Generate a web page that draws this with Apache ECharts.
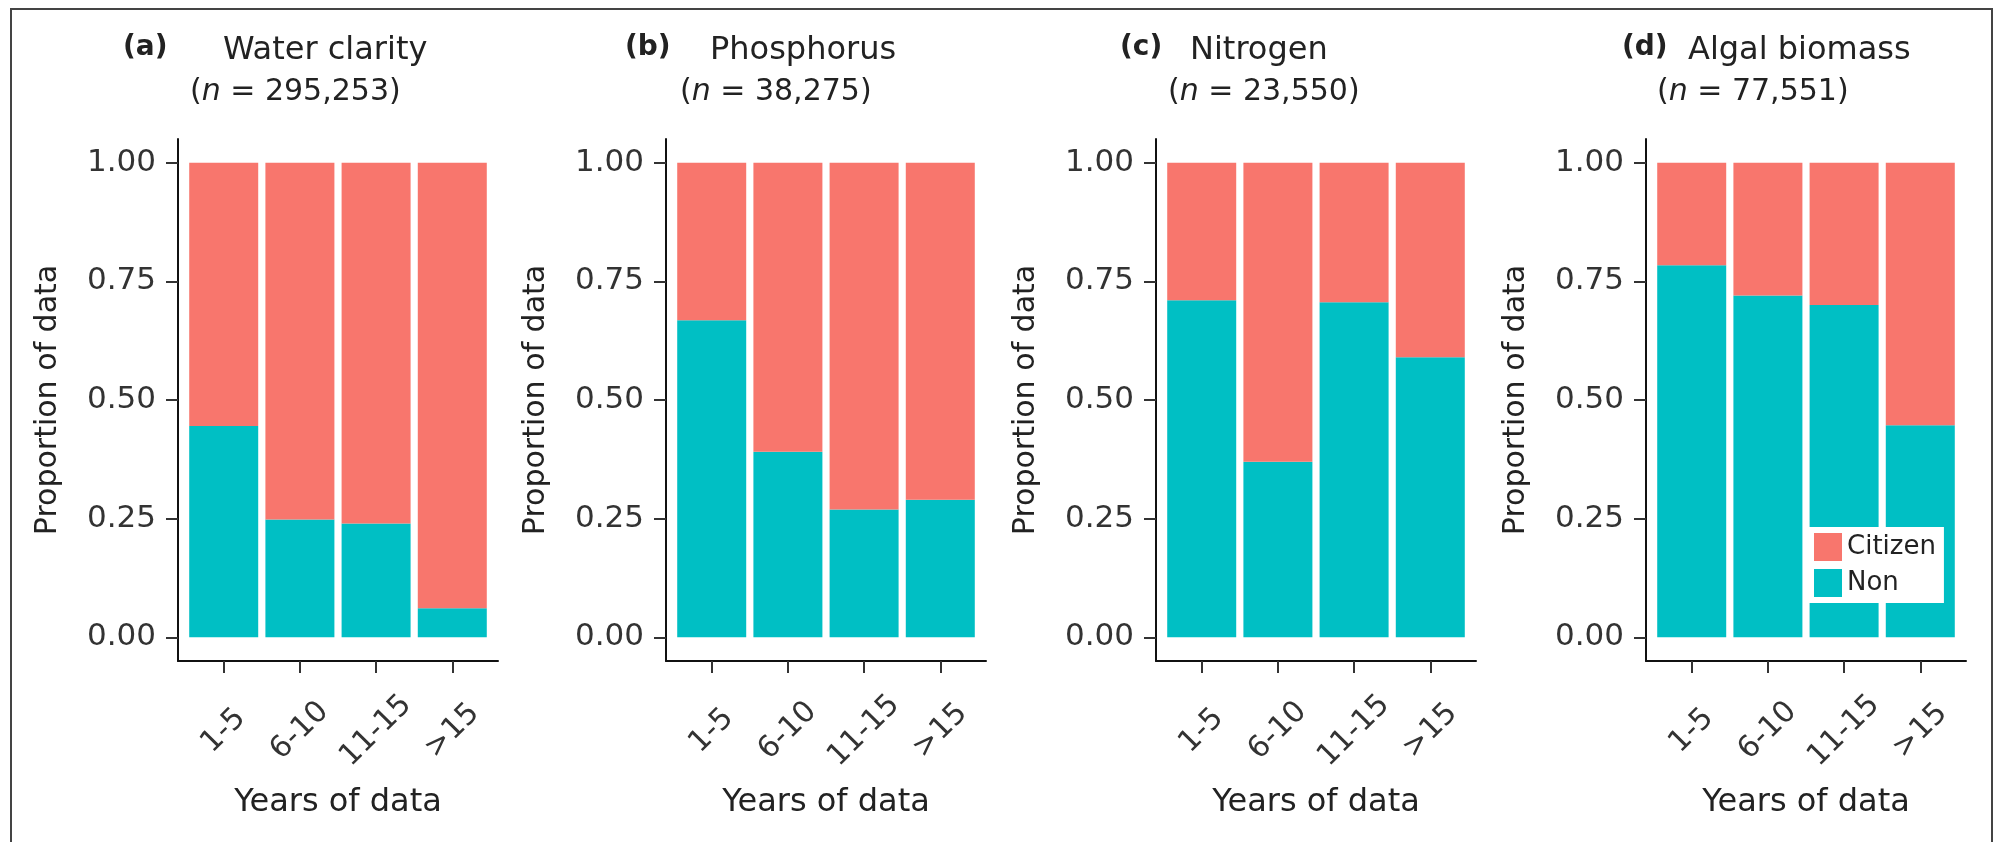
<!DOCTYPE html>
<html>
<head>
<meta charset="utf-8">
<script src="https://cdn.jsdelivr.net/npm/echarts@6/dist/echarts.min.js"></script>
<style>
  html, body { margin: 0; padding: 0; background: #fff; }
  #main { width: 2005px; height: 842px; }
</style>
</head>
<body>
<div id="main"></div>
<script>
// years-of-data bins on the x axis
var categories = ['1-5', '6-10', '11-15', '>15'];

var panelTags = ['(a)', '(b)', '(c)', '(d)'];
var panelNames = ['Water clarity', 'Phosphorus', 'Nitrogen', 'Algal biomass'];
var panelCounts = ['295,253', '38,275', '23,550', '77,551'];

// proportion of data, non-citizen vs citizen, per bin
var nonWater = [0.445, 0.248, 0.240, 0.061];
var citWater = [0.555, 0.752, 0.760, 0.939];
var nonPhos = [0.668, 0.391, 0.269, 0.290];
var citPhos = [0.332, 0.609, 0.731, 0.710];
var nonNitro = [0.710, 0.370, 0.706, 0.590];
var citNitro = [0.290, 0.630, 0.294, 0.410];
var nonAlgae = [0.784, 0.720, 0.700, 0.447];
var citAlgae = [0.216, 0.280, 0.300, 0.553];

var yTicks = [0, 0.25, 0.5, 0.75, 1];
var xTicks = [1, 2, 3, 4];

var FONT = 'DejaVu Sans';
var RED = '#F8766D';
var TEAL = '#00BFC4';

var panels = [
  { non: nonWater, cit: citWater },
  { non: nonPhos, cit: citPhos },
  { non: nonNitro, cit: citNitro },
  { non: nonAlgae, cit: citAlgae }
];

// layout
var axisLeft = [178, 666, 1156, 1646];
var tagLeft = [123, 625, 1120, 1622];
var nameLeft = [223, 710, 1190, 1688];
var countLeft = [190, 680, 1168, 1657];

var chart = echarts.init(document.getElementById('main'));

var grids = [], xAxes = [], yAxes = [], series = [], titles = [];

// value first, bin second, so the stack runs on the y values
function toPairs(vals) {
  return vals.map(function(v, k) { return [v, xTicks[k]]; });
}

panels.forEach(function(p, i) {
  grids.push({ left: axisLeft[i], top: 139, width: 320, height: 522 });

  xAxes.push({
    gridIndex: i,
    type: 'value',
    min: 0.4,
    max: 4.6,
    name: 'Years of data',
    nameLocation: 'middle',
    nameGap: 126,
    nameTextStyle: { fontFamily: FONT, fontSize: 32, color: '#222' },
    axisLine: { onZero: false, lineStyle: { color: '#111', width: 2 } },
    axisTick: { customValues: xTicks, length: 12, lineStyle: { color: '#333', width: 2 } },
    axisLabel: {
      customValues: xTicks,
      formatter: function(v) { return categories[Math.round(v) - 1]; },
      rotate: 45,
      align: 'center',
      verticalAlign: 'middle',
      margin: 70,
      fontFamily: FONT,
      fontSize: 30,
      color: '#333'
    },
    splitLine: { show: false }
  });

  yAxes.push({
    gridIndex: i,
    type: 'value',
    min: -0.05,
    max: 1.05,
    name: 'Proportion of data',
    nameLocation: 'middle',
    nameGap: 115,
    nameTextStyle: { fontFamily: FONT, fontSize: 30, color: '#222' },
    axisLine: { show: true, onZero: false, lineStyle: { color: '#111', width: 2 } },
    axisTick: { show: true, customValues: yTicks, length: 12, lineStyle: { color: '#333', width: 2 } },
    axisLabel: {
      customValues: yTicks,
      formatter: function(v) { return v.toFixed(2); },
      margin: 22,
      fontFamily: FONT,
      fontSize: 31,
      color: '#333'
    },
    splitLine: { show: false }
  });

  series.push({
    name: 'Non',
    type: 'bar',
    xAxisIndex: i,
    yAxisIndex: i,
    stack: 'p' + i,
    barWidth: 69,
    encode: { x: 1, y: 0 },
    itemStyle: { color: TEAL },
    data: toPairs(p.non)
  });
  series.push({
    name: 'Citizen',
    type: 'bar',
    xAxisIndex: i,
    yAxisIndex: i,
    stack: 'p' + i,
    barWidth: 69,
    encode: { x: 1, y: 0 },
    itemStyle: { color: RED },
    data: toPairs(p.cit)
  });

  titles.push({
    text: panelTags[i],
    left: tagLeft[i],
    top: 34,
    padding: 0,
    textStyle: { fontFamily: FONT, fontSize: 28, fontWeight: 'bold', color: '#222' }
  });
  titles.push({
    text: panelNames[i],
    left: nameLeft[i],
    top: 35,
    padding: 0,
    textStyle: { fontFamily: FONT, fontSize: 32, fontWeight: 'normal', color: '#222' }
  });
  titles.push({
    text: '({i|n} = ' + panelCounts[i] + ')',
    left: countLeft[i],
    top: 77,
    padding: 0,
    textStyle: {
      fontFamily: FONT, fontSize: 30, fontWeight: 'normal', color: '#222',
      rich: { i: { fontFamily: FONT, fontSize: 30, fontStyle: 'italic', color: '#222' } }
    }
  });
});

chart.setOption({
  animation: false,
  backgroundColor: '#fff',
  title: titles,
  grid: grids,
  xAxis: xAxes,
  yAxis: yAxes,
  legend: {
    data: ['Citizen', 'Non'],
    orient: 'vertical',
    left: 1808,
    top: 527,
    padding: [6, 8, 6, 6],
    itemWidth: 28,
    itemHeight: 28,
    itemGap: 8,
    icon: 'rect',
    backgroundColor: '#fff',
    textStyle: { fontFamily: FONT, fontSize: 26, color: '#222' }
  },
  graphic: [{
    type: 'polyline',
    silent: true,
    shape: { points: [[11, 842], [11, 9], [1992, 9], [1992, 842]] },
    style: { stroke: '#444', lineWidth: 2, fill: null }
  }],
  series: series
});

window.addEventListener('resize', function() { chart.resize(); });
</script>
</body>
</html>
